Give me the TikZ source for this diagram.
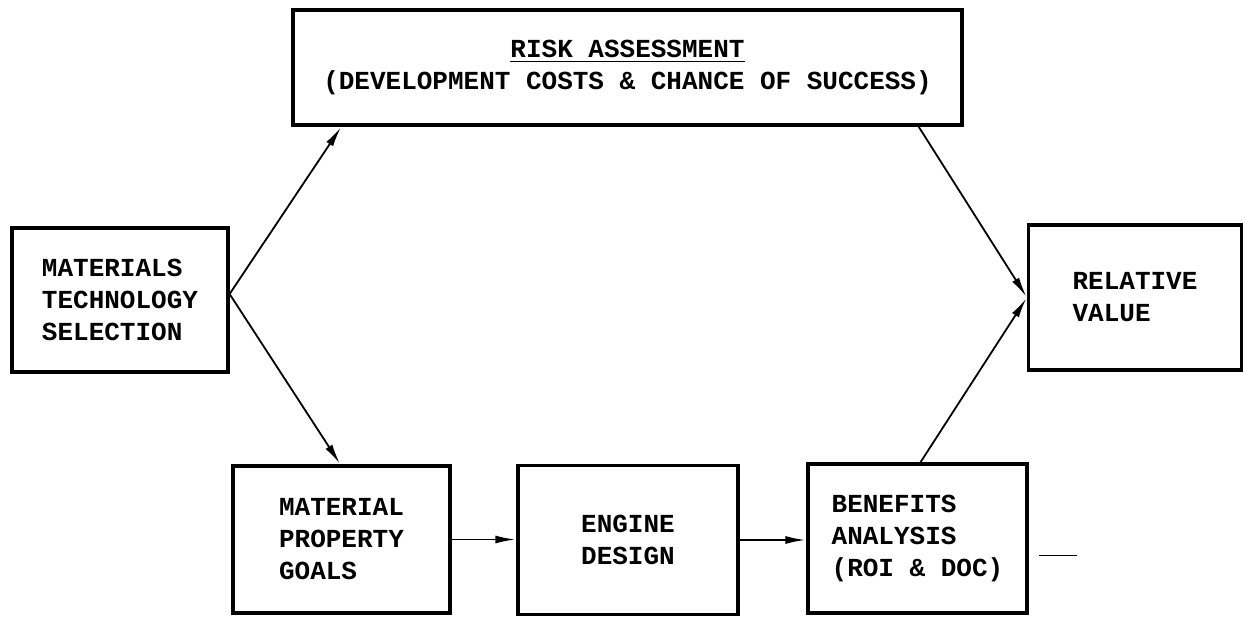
\documentclass[tikz,border=0pt]{standalone}
\usepackage{fontspec}
\setmonofont{Liberation Mono}
\usepackage{tikz}
\usetikzlibrary{arrows.meta, positioning}

% thick rule under the title line of the risk box
\newcommand{\riskline}[1]{\setbox0\hbox{#1}\rlap{\rule[-5pt]{\wd0}{1.6pt}}\box0}

\begin{document}
\begin{tikzpicture}[
    x=1pt, y=-1pt,
    box/.style={draw, line width=3.2pt, align=left, inner sep=0pt,
        font=\ttfamily\bfseries\fontsize{26}{32}\selectfont},
    arrow/.style={-{Latex[length=20pt, width=8pt]}, line width=1.8pt, shorten >=1pt}
]
\useasboundingbox (0,0) rectangle (1245,618);

\node[box, minimum width=216, minimum height=144] (sel) at (120,300) {MATERIALS\\TECHNOLOGY\\SELECTION};
\node[box, align=center, minimum width=669, minimum height=115] (risk) at (627.5,67.5)
    {\riskline{RISK ASSESSMENT}\\(DEVELOPMENT COSTS \& CHANCE OF SUCCESS)};
\node[box, minimum width=213, minimum height=145] (value) at (1135,297.5) {RELATIVE\\VALUE};

\node[box, minimum width=217, minimum height=147] (goals) at (341.5,539.5) {MATERIAL\\PROPERTY\\GOALS};
\node[box, align=center, minimum width=220, minimum height=149] (engine) at (628,540) {ENGINE\\DESIGN};
\node[box, minimum width=219, minimum height=149] (benef) at (917.5,538.5) {BENEFITS\\ANALYSIS\\(ROI \& DOC)};

\coordinate (fork) at ([yshift=6]sel.east);
\coordinate (stub) at ([xshift=10, yshift=-17]benef.east);

\draw[arrow] (fork) -- ([xshift=50]risk.south west);
\draw[arrow] (fork) -- ([xshift=109]goals.north west);
\draw[arrow] ([xshift=-45]risk.south east) -- (value.west);
\draw[arrow] ([xshift=114]benef.north west) -- (value.west);
\draw[arrow] (goals.east) -- (goals.east -| engine.west);
\draw[arrow] (engine.east) -- (engine.east -| benef.west);
\draw[line width=1pt] (stub) -- ++(38,0);
\end{tikzpicture}
\end{document}
